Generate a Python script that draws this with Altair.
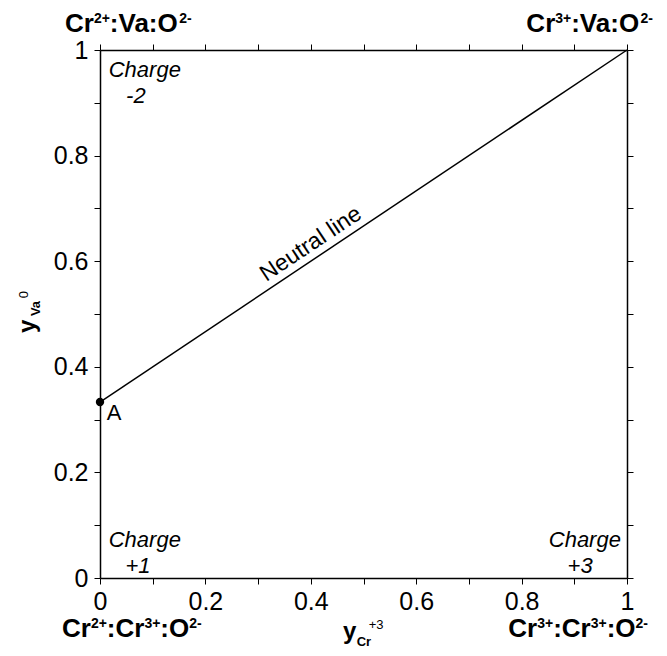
import altair as alt
import pandas as pd

FONT = "Liberation Sans"
PLOT_W = 527
PLOT_H = 528

# ---------------- data ----------------
tick_values = [0.0, 0.1, 0.2, 0.3, 0.4, 0.5, 0.6, 0.7, 0.8, 0.9, 1.0]

neutral_x = [0.0, 1.0]
neutral_y = [0.3333, 1.0]

point_x = [0.0]
point_y = [0.3333]
point_label = ["A"]
point_label_x = [0.013]
point_label_y = [0.299]

# corner compositions: (text, superscript?)
corner_pieces = [
    [("Cr", False), ("2+", True), (":Va:O", False), ("2-", True)],
    [("Cr", False), ("3+", True), (":Va:O", False), ("2-", True)],
    [("Cr", False), ("2+", True), (":Cr", False), ("3+", True), (":O", False), ("2-", True)],
    [("Cr", False), ("3+", True), (":Cr", False), ("3+", True), (":O", False), ("2-", True)],
]
corner_left_px = [65, None, 62, None]      # left edge (page px offset from plot left = value-100)
corner_right_px = [None, 653, None, 648]   # right edge
corner_y = [1.034, 1.034, -0.112, -0.112]  # baselines in data units

charge_text = ["Charge", "-2", "Charge", "+1", "Charge", "+3"]
charge_x = [0.085, 0.068, 0.085, 0.072, 0.920, 0.911]
charge_y = [0.949, 0.900, 0.059, 0.0095, 0.059, 0.0095]

neutral_label = ["Neutral line"]
neutral_label_x = [0.400]
neutral_label_y = [0.633]

# axis title pieces: x title  y_Cr^+3
xt_main = ["y"];  xt_main_x = [0.461];  xt_main_y = [-0.1155]
xt_sub = ["Cr"];  xt_sub_x = [0.487];   xt_sub_y = [-0.129]
xt_sup = ["+3"];  xt_sup_x = [0.510];   xt_sup_y = [-0.0966]
# y title  y_Va^0 (rotated)
yt_main = ["y"];  yt_main_x = [-0.123]; yt_main_y = [0.464]
yt_sub = ["Va"];  yt_sub_x = [-0.114];  yt_sub_y = [0.496]
yt_sup = ["0"];   yt_sup_x = [-0.137];  yt_sup_y = [0.530]

# ---------------- corner label layout (Arial-bold metrics) ----------------
BOLD_W = {"C": 0.722, "r": 0.389, ":": 0.333, "V": 0.667, "a": 0.556, "O": 0.778,
          "2": 0.556, "3": 0.556, "+": 0.584, "-": 0.333}
MAIN_FS, SUP_FS, SUP_RAISE = 26, 14, 9


def tw(s, fs):
    return sum(BOLD_W[c] for c in s) * fs


main_rows, sup_rows = [], []
for pieces, lpx, rpx, base in zip(corner_pieces, corner_left_px, corner_right_px, corner_y):
    total = sum(tw(t, SUP_FS if s else MAIN_FS) for t, s in pieces)
    left = lpx if lpx is not None else rpx - total
    cur = left - 100
    for t, s in pieces:
        fs = SUP_FS if s else MAIN_FS
        row = {"x": cur / PLOT_W, "t": t,
               "y": base + (SUP_RAISE / PLOT_H if s else 0)}
        (sup_rows if s else main_rows).append(row)
        cur += tw(t, fs)

# ---------------- chart ----------------
xs = alt.Scale(domain=[0, 1], nice=False, zero=False)
ys = alt.Scale(domain=[0, 1], nice=False, zero=False)

label_expr = "(round(datum.value*10) % 2 == 0) ? format(datum.value, '~g') : ''"

common_axis = dict(
    values=tick_values, grid=False, title=None,
    domainColor="black", domainWidth=1.5, tickColor="black", tickWidth=1,
    tickSize=6, labelFont=FONT, labelFontSize=25, labelColor="black",
    labelFlush=False, labelOverlap=False,
)

line = alt.Chart(pd.DataFrame({"x": neutral_x, "y": neutral_y})).mark_line(
    color="black", strokeWidth=1.5
).encode(
    x=alt.X("x:Q", scale=xs, axis=alt.Axis(orient="bottom", labelExpr=label_expr,
                                           labelPadding=5, **common_axis)),
    y=alt.Y("y:Q", scale=ys, axis=alt.Axis(orient="left", labelExpr=label_expr,
                                           labelPadding=6, **common_axis)),
)

point = alt.Chart(pd.DataFrame({"x": point_x, "y": point_y})).mark_circle(
    color="black", opacity=1, size=70
).encode(
    x=alt.X("x:Q", scale=xs, axis=alt.Axis(orient="top", labels=False, **common_axis)),
    y=alt.Y("y:Q", scale=ys, axis=alt.Axis(orient="right", labels=False, **common_axis)),
)


def text_layer(df, size, weight="normal", style="normal", align="center",
               baseline="alphabetic", angle=0):
    return alt.Chart(df).mark_text(
        font=FONT, fontSize=size, fontWeight=weight, fontStyle=style,
        align=align, baseline=baseline, angle=angle, color="black"
    ).encode(
        x=alt.X("x:Q", scale=xs, axis=None),
        y=alt.Y("y:Q", scale=ys, axis=None),
        text="t:N",
    )


def tdf(t, x, y):
    return pd.DataFrame({"x": x, "y": y, "t": t})


layers = [
    line,
    point,
    text_layer(tdf(point_label, point_label_x, point_label_y), 22, align="left"),
    text_layer(pd.DataFrame(main_rows), MAIN_FS, weight="bold", align="left"),
    text_layer(pd.DataFrame(sup_rows), SUP_FS, weight="bold", align="left"),
    text_layer(tdf(charge_text, charge_x, charge_y), 22, style="italic"),
    text_layer(tdf(neutral_label, neutral_label_x, neutral_label_y), 23,
               baseline="middle", angle=326.3),
    text_layer(tdf(xt_main, xt_main_x, xt_main_y), 24, weight="bold", align="left"),
    text_layer(tdf(xt_sub, xt_sub_x, xt_sub_y), 13, weight="bold", align="left"),
    text_layer(tdf(xt_sup, xt_sup_x, xt_sup_y), 13, align="left"),
    text_layer(tdf(yt_main, yt_main_x, yt_main_y), 24, weight="bold", align="left", angle=270),
    text_layer(tdf(yt_sub, yt_sub_x, yt_sub_y), 13, weight="bold", align="left", angle=270),
    text_layer(tdf(yt_sup, yt_sup_x, yt_sup_y), 13, align="left", angle=270),
]

chart = alt.layer(*layers).resolve_axis(x="independent", y="independent").properties(
    width=PLOT_W, height=PLOT_H,
    autosize=alt.AutoSizeParams(type="none"),
    padding={"left": 92, "top": 42, "right": 32, "bottom": 70},
    background="white",
).configure_view(stroke=None)

chart.save("out.html", embed_options={"renderer": "svg", "actions": False})
